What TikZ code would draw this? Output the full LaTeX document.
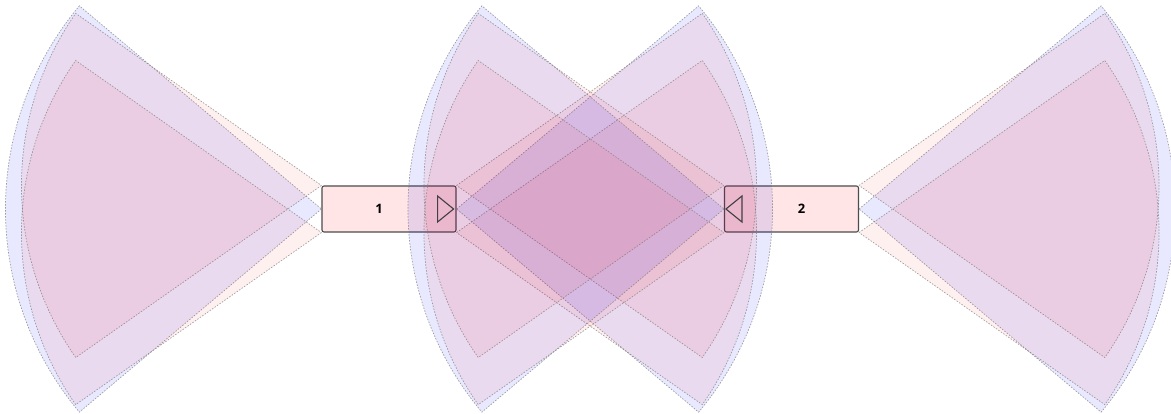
\documentclass[tikz,border=0pt]{standalone}
\usepackage{fontspec}
\setsansfont{Open Sans}
\newcommand\myfan[5]{\path[#1] (#2) -- ++(#3+#5:#4pt) arc[start angle=#3+#5, end angle=#3-#5, radius=#4pt] -- cycle;}
\begin{document}
\begin{tikzpicture}[x=1pt,y=-1pt,
  fanline/.style={draw=gray, line width=0.7pt, dash pattern=on 1.5pt off 1.5pt, draw opacity=0.75},
  bluefan/.style={fanline, fill=blue, fill opacity=0.09},
  pinkfan/.style={fanline, fill=red, fill opacity=0.06},
  box/.style={draw=black!70, fill=red!10, line width=1.1pt, rounded corners=2pt, minimum width=134pt, minimum height=46pt, inner sep=0pt},
  tri/.style={draw=black!75, line width=1.1pt, line join=miter},
  lbl/.style={font=\sffamily\bfseries\fontsize{13}{15}\selectfont}
]
\useasboundingbox (0,0) rectangle (1171,414);
\clip (0,0) rectangle (1171,414);
\node[box] (b1) at (389,209) {};
\node[box] (b2) at (791.5,209) {};
% fans of box 1
\myfan{bluefan}{b1.west}{180}{316}{40}
\myfan{pinkfan}{b1.north west}{180}{300}{35}
\myfan{pinkfan}{b1.south west}{180}{300}{35}
\myfan{bluefan}{b1.east}{0}{316}{40}
\myfan{pinkfan}{b1.north east}{0}{300}{35}
\myfan{pinkfan}{b1.south east}{0}{300}{35}
% fans of box 2
\myfan{bluefan}{b2.west}{180}{316}{40}
\myfan{pinkfan}{b2.north west}{180}{300}{35}
\myfan{pinkfan}{b2.south west}{180}{300}{35}
\myfan{bluefan}{b2.east}{0}{316}{40}
\myfan{pinkfan}{b2.north east}{0}{300}{35}
\myfan{pinkfan}{b2.south east}{0}{300}{35}
% box contents
\draw[tri] ([xshift=-19pt,yshift=13pt]b1.east) -- ([xshift=-3pt]b1.east) -- ([xshift=-19pt,yshift=-13pt]b1.east) -- cycle;
\draw[tri] ([xshift=18pt,yshift=13pt]b2.west) -- ([xshift=2pt]b2.west) -- ([xshift=18pt,yshift=-13pt]b2.west) -- cycle;
\node[lbl] (t1) at ([xshift=-10pt]b1.center) {1};
\node[lbl] (t2) at ([xshift=10pt]b2.center) {2};
\end{tikzpicture}
\end{document}
